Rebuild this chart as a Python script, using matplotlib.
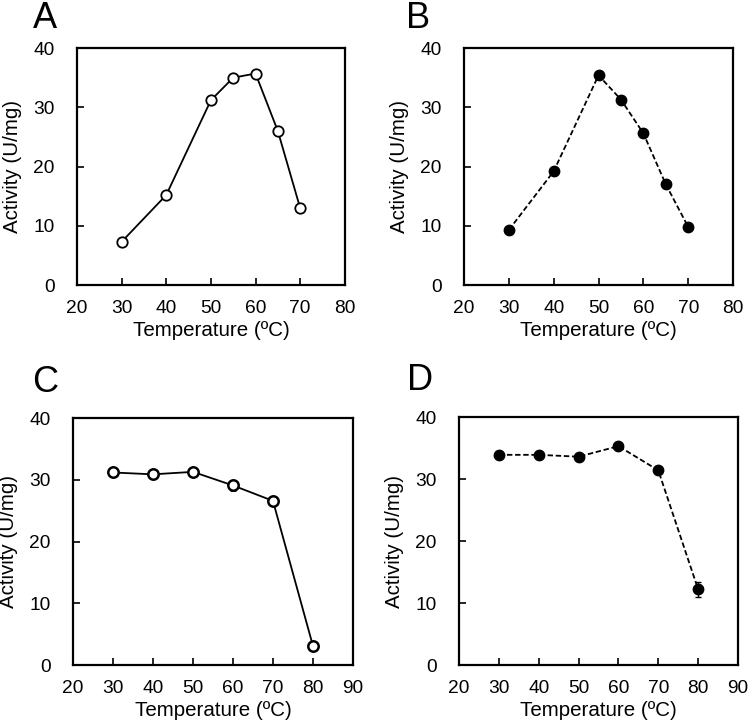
import matplotlib
matplotlib.use('Agg')
import matplotlib.pyplot as plt

plt.rcParams['font.family'] = ['Liberation Sans', 'DejaVu Sans']

# panel A / B: optimum temperature
temp_ab = [30, 40, 50, 55, 60, 65, 70]
act_a = [7.3, 15.2, 31.2, 35.0, 35.7, 26.0, 13.0]
act_b = [9.3, 19.2, 35.4, 31.3, 25.6, 17.0, 9.8]

# panel C / D: thermal stability
temp_cd = [30, 40, 50, 60, 70, 80]
act_c = [31.2, 30.9, 31.3, 29.1, 26.6, 3.1]
err_c = [0.3, 0.3, 0.3, 0.8, 0.3, 0.3]
act_d = [33.9, 33.9, 33.6, 35.3, 31.4, 12.2]
err_d = [0.3, 0.3, 0.3, 0.3, 0.3, 1.2]

xticks_ab = [20, 30, 40, 50, 60, 70, 80]
xticks_cd = [20, 30, 40, 50, 60, 70, 80, 90]
yticks = [0, 10, 20, 30, 40]

fig = plt.figure(figsize=(7.5, 7.26), dpi=100)

axA = fig.add_axes([0.1027, 0.6074, 0.357, 0.3264])
axB = fig.add_axes([0.6187, 0.6074, 0.3587, 0.3264])
axC = fig.add_axes([0.0973, 0.084, 0.3733, 0.340])
axD = fig.add_axes([0.612, 0.084, 0.372, 0.3416])


def style(ax, xt):
    ax.set_xlim(xt[0], xt[-1])
    ax.set_ylim(0, 40)
    ax.set_xticks(xt)
    ax.set_yticks(yticks)
    ax.tick_params(direction='in', length=5, width=1.2, labelsize=13.8)
    ax.tick_params(axis='x', pad=11)
    ax.tick_params(axis='y', pad=16)
    for s in ax.spines.values():
        s.set_linewidth(1.6)
    ax.set_xlabel('Temperature (ºC)', fontsize=14.8, labelpad=3)
    ax.set_ylabel('Activity (U/mg)', fontsize=14.8, labelpad=8)


axA.plot(temp_ab, act_a, '-o', color='black', lw=1.3, ms=7.5,
         mfc='white', mec='black', mew=1.3, clip_on=False)
style(axA, xticks_ab)

axB.plot(temp_ab, act_b, '--o', color='black', lw=1.3, ms=7.5,
         mfc='black', mec='black', dashes=(3, 1.5), clip_on=False)
style(axB, xticks_ab)

axC.errorbar(temp_cd, act_c, yerr=err_c, fmt='-o', color='black', lw=1.3, ms=7.5,
             mfc='white', mec='black', mew=1.8, capsize=2.5, elinewidth=1, clip_on=False)
style(axC, xticks_cd)

axD.errorbar(temp_cd, act_d, yerr=err_d, fmt='--o', color='black', lw=1.3, ms=7.5,
             mfc='black', mec='black', dashes=(3, 1.5), capsize=2.5, elinewidth=1,
             clip_on=False)
style(axD, xticks_cd)

fig.text(0.060, 0.999, 'A', fontsize=26, ha='center', va='top')
fig.text(0.558, 0.999, 'B', fontsize=26, ha='center', va='top')
fig.text(0.060, 0.497, 'C', fontsize=26, ha='center', va='top')
fig.text(0.560, 0.500, 'D', fontsize=26, ha='center', va='top')

fig.savefig('out.png', dpi=100)
